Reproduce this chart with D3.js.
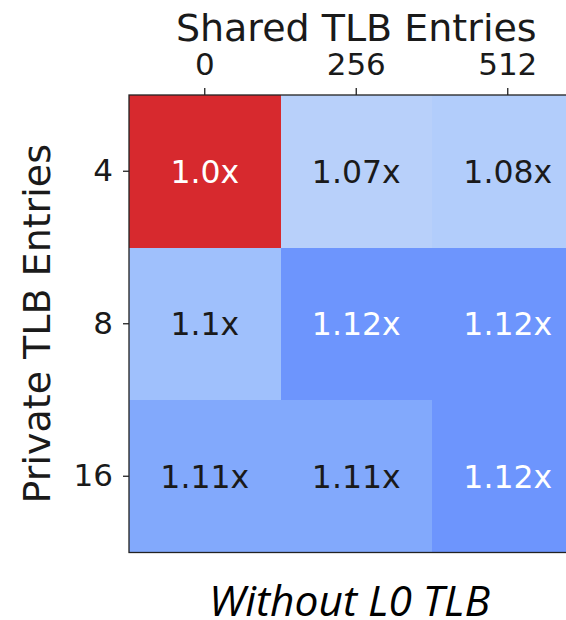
<!DOCTYPE html>
<html>
<head>
<meta charset="utf-8">
<script src="https://cdn.jsdelivr.net/npm/d3@7"></script>
<style>
  body { margin: 0; background: white; overflow: hidden; }
  svg { display: block; }
</style>
</head>
<body>
<div id="chart"></div>
<script>
// data
var shared_entries = ["0", "256", "512"]
var private_entries = ["4", "8", "16"]
var speedup = [
    [1.00, 1.07, 1.08],
    [1.10, 1.12, 1.12],
    [1.11, 1.11, 1.12]
]
var color_stops = [1.00, 1.07, 1.08, 1.10, 1.11, 1.12]
var color_values = ["#d7292e", "#b8d0fa", "#b2cdfb", "#9fc0fc", "#82a9fc", "#6d95fd"]

var W = 566, H = 620
var left = 129, top_ = 95
var cell_w = 151.5, cell_h = 152.5
var axis_font = "'DejaVu Sans', sans-serif"

var svg = d3.select("#chart").append("svg")
    .attr("width", W)
    .attr("height", H)

var x = d3.scaleBand()
    .domain(shared_entries)
    .range([left, left + cell_w*shared_entries.length])
var y = d3.scaleBand()
    .domain(private_entries)
    .range([top_, top_ + cell_h*private_entries.length])
var color = d3.scaleLinear()
    .domain(color_stops)
    .range(color_values)

var cells = []
private_entries.forEach(function(r, i){
    shared_entries.forEach(function(c, j){
        cells.push({row: r, col: c, v: speedup[i][j]})
    })
})

function fmt(v){
    var s = String(Math.round(v*100)/100)
    if (s.indexOf(".") < 0) s += ".0"
    return s + "x"
}

// cells
svg.append("g").selectAll("rect")
    .data(cells).enter()
    .append("rect")
    .attr("x", function(d){ return x(d.col) })
    .attr("y", function(d){ return y(d.row) })
    .attr("width", x.bandwidth() + 0.5)
    .attr("height", y.bandwidth() + 0.5)
    .attr("shape-rendering", "crispEdges")
    .attr("fill", function(d){ return color(d.v) })

// cell labels
svg.append("g").selectAll("text")
    .data(cells).enter()
    .append("text")
    .text(function(d){ return fmt(d.v) })
    .attr("x", function(d){ return x(d.col) + x.bandwidth()/2 })
    .attr("y", function(d){ return y(d.row) + y.bandwidth()/2 })
    .attr("dy", "0.36em")
    .attr("text-anchor", "middle")
    .style("font-family", axis_font)
    .style("font-size", "31.5px")
    .attr("fill", function(d){ return (d.v <= 1.0 || d.v >= 1.12) ? "#ffffff" : "#1a1a1a" })

// frame
svg.append("rect")
    .attr("x", left)
    .attr("y", top_)
    .attr("width", cell_w*3)
    .attr("height", cell_h*3)
    .attr("fill", "none")
    .attr("stroke", "#222")
    .attr("stroke-width", 1.3)

// axes
var x_axis = svg.append("g")
    .attr("transform", "translate(0," + top_ + ")")
    .call(d3.axisTop(x).tickSize(7).tickPadding(13))
var y_axis = svg.append("g")
    .attr("transform", "translate(" + left + ",0)")
    .call(d3.axisLeft(y).tickSize(6).tickPadding(10))
;[x_axis, y_axis].forEach(function(a){
    a.select(".domain").remove()
    a.selectAll("line").attr("stroke", "#222").attr("stroke-width", 1.3)
    a.selectAll("text")
        .style("font-family", axis_font)
        .style("font-size", "31px")
        .attr("fill", "#1a1a1a")
})

// axis titles
svg.append("text")
    .text("Shared TLB Entries")
    .attr("x", left + cell_w*3/2)
    .attr("y", 41)
    .attr("text-anchor", "middle")
    .style("font-family", axis_font)
    .style("font-size", "38px")
    .attr("fill", "#1a1a1a")
svg.append("text")
    .text("Private TLB Entries")
    .attr("transform", "translate(50," + (top_ + cell_h*3/2) + ") rotate(-90)")
    .attr("text-anchor", "middle")
    .style("font-family", axis_font)
    .style("font-size", "38px")
    .attr("fill", "#1a1a1a")

// caption
svg.append("text")
    .text("Without L0 TLB")
    .attr("x", 349.5)
    .attr("y", 616)
    .attr("text-anchor", "middle")
    .style("font-family", "'Open Sans', sans-serif")
    .style("font-style", "italic")
    .style("font-size", "42.5px")
    .attr("fill", "#000")
</script>
</body>
</html>
